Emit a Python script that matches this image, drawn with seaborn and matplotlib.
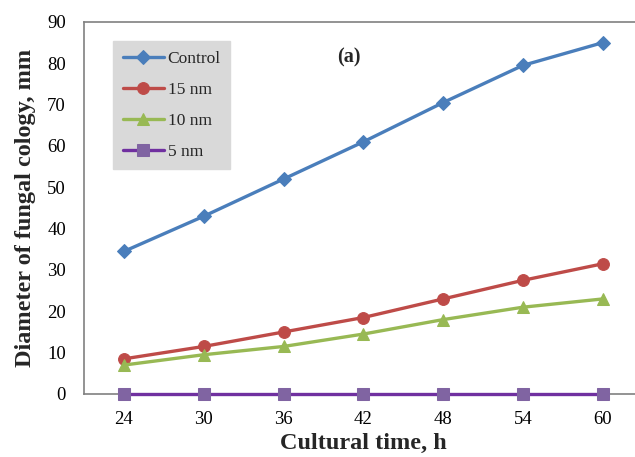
import matplotlib
matplotlib.use('Agg')

import matplotlib.pyplot as plt
import seaborn as sns
import pandas as pd

# data
hours = ['24', '30', '36', '42', '48', '54', '60']
control = [34.5, 43.0, 52.0, 61.0, 70.5, 79.5, 85.0]
nm15 = [8.5, 11.5, 15.0, 18.5, 23.0, 27.5, 31.5]
nm10 = [7.0, 9.5, 11.5, 14.5, 18.0, 21.0, 23.0]
nm5 = [0, 0, 0, 0, 0, 0, 0]
series_names = ['Control', '15 nm', '10 nm', '5 nm']

sns.set_theme(style="white")
plt.rcParams['font.family'] = ['Liberation Serif', 'DejaVu Serif']

# style per series: (line colour, marker colour, marker)
styles = {
    'Control': ('#4A7EBB', '#4A7EBB', 'D'),
    '15 nm': ('#BE4B48', '#BE4B48', 'o'),
    '10 nm': ('#98B954', '#98B954', '^'),
    '5 nm': ('#7030A0', '#8064A2', 's'),
}

fig = plt.figure(figsize=(6.35, 4.57), dpi=100)
ax = fig.add_axes([84 / 635, 63 / 457, 558.6 / 635, 372 / 457])

for name, vals in zip(series_names, [control, nm15, nm10, nm5]):
    df = pd.DataFrame({'x': range(len(hours)), 'y': vals})
    lc, mc, mk = styles[name]
    ms = 7 if mk == 'D' else 8.5
    sns.lineplot(data=df, x='x', y='y', ax=ax, color=lc, linewidth=2.4,
                 marker=mk, markersize=ms, markerfacecolor=mc,
                 markeredgecolor=mc, label=name, clip_on=False, zorder=3)

ax.set_xlim(-0.5, 6.5)
ax.set_ylim(0, 90)
ax.set_xticks(range(len(hours)))
ax.set_xticklabels(hours)
ax.set_yticks(range(0, 91, 10))
ax.tick_params(axis='both', labelsize=13.5, length=0, colors='black')
ax.tick_params(axis='x', pad=12)
ax.tick_params(axis='y', pad=13)

for s in ax.spines.values():
    s.set_color('#808080')
    s.set_linewidth(1.2)
    s.set_zorder(1)

ax.set_xlabel('Cultural time, h', fontsize=17.5, fontweight='bold', labelpad=4)
ax.set_ylabel('Diameter of fungal cology, mm', fontsize=17.5, fontweight='bold', labelpad=8)

ax.text(0.475, 0.905, '(a)', transform=ax.transAxes, fontsize=14.5,
        fontweight='bold', ha='center', va='center')

leg = ax.legend(loc='upper left', bbox_to_anchor=(0.052, 0.948), fontsize=12.5,
                frameon=True, fancybox=False, facecolor='#D9D9D9',
                edgecolor='#D9D9D9', framealpha=1, handlelength=2.4,
                labelspacing=0.85, borderpad=0.55, handletextpad=0.2,
                borderaxespad=0)

fig.savefig('out.png', dpi=100)
plt.close(fig)
